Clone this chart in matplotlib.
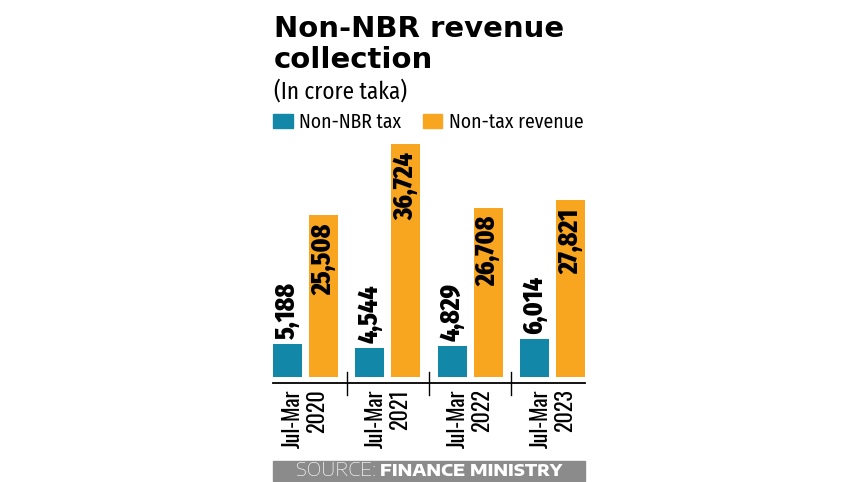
import matplotlib
matplotlib.use('Agg')
import matplotlib.pyplot as plt
import numpy as np
from matplotlib.patches import Rectangle

periods = ['Jul-Mar\n2020', 'Jul-Mar\n2021', 'Jul-Mar\n2022', 'Jul-Mar\n2023']
non_nbr_tax = [5188, 4544, 4829, 6014]
non_tax_revenue = [25508, 36724, 26708, 27821]

teal = '#1387a8'
orange = '#f8a51f'
grey = '#8b8b8b'
W, H = 857, 482

fig = plt.figure(figsize=(W / 100, H / 100), dpi=100)
renderer = fig.canvas.get_renderer()


def fx(px):
    return px / W


def fy(py):
    return 1 - py / H


def fit(s, target, **kw):
    # font size that makes string s about target pixels long
    t = fig.text(0, 0, s, fontsize=20, **kw)
    w = t.get_window_extent(renderer).width
    t.remove()
    return 20 * target / w


title_kw = dict(family='DejaVu Sans', fontweight='bold')
sub_kw = dict(family='Fira Sans Condensed')
val_kw = dict(family='Fira Sans Extra Condensed', fontweight='heavy')
tick_kw = dict(family=['Oswald', 'Fira Sans Extra Condensed'])

# axes: x from 273 to 585 px, y from 395 (bottom) to 140 (top)
ax = fig.add_axes([fx(273), fy(395), fx(585) - fx(273), fy(140) - fy(395)])
upp = 36724 / 233.0  # data units per pixel
ax.set_xlim(-0.393, 3.393)
ax.set_ylim(-18 * upp, 237 * upp)
ax.axis('off')

x = np.arange(len(periods))
off = 0.218
width = 0.35
ax.bar(x - off, non_nbr_tax, width, color=teal, zorder=3)
ax.bar(x + off, non_tax_revenue, width, color=orange, zorder=3)

val_size = fit('36,724', 68, **val_kw)
tick_size = fit('Jul-Mar', 59, **tick_kw)
for i in range(len(periods)):
    ax.text(x[i] - off, non_nbr_tax[i] + 5 * upp, f'{non_nbr_tax[i]:,}', rotation=90,
            ha='center', va='bottom', fontsize=val_size, **val_kw)
    ax.text(x[i] + off, non_tax_revenue[i] - 8 * upp, f'{non_tax_revenue[i]:,}', rotation=90,
            ha='center', va='top', fontsize=val_size, **val_kw)
    ax.text(x[i], -12 * upp, periods[i], rotation=90, ha='center', va='top',
            multialignment='right', fontsize=tick_size, linespacing=1.12,
            clip_on=False, **tick_kw)

# baseline and separators
ax.plot([-0.393, 3.393], [-6 * upp, -6 * upp], color='black', lw=1.3, clip_on=False)
for s in x[:-1] + 0.5:
    ax.plot([s, s], [5 * upp, -18 * upp], color='black', lw=1.0, clip_on=False)

# title block
ts = fit('Non-NBR revenue', 290, **title_kw)
fig.text(fx(274), fy(37), 'Non-NBR revenue', ha='left', va='baseline', fontsize=ts, **title_kw)
fig.text(fx(274), fy(68), 'collection', ha='left', va='baseline', fontsize=ts, **title_kw)
fig.text(fx(274), fy(99), '(In crore taka)', ha='left', va='baseline',
         fontsize=fit('(In crore taka)', 133, **sub_kw), **sub_kw)

# legend
ls = fit('Non-tax revenue', 134, **sub_kw)
fig.patches.append(Rectangle((fx(273), fy(128)), fx(293) - fx(273), fy(114) - fy(128),
                             transform=fig.transFigure, color=teal))
fig.text(fx(299), fy(128), 'Non-NBR tax', ha='left', va='baseline', fontsize=ls, **sub_kw)
fig.patches.append(Rectangle((fx(423), fy(128)), fx(442) - fx(423), fy(114) - fy(128),
                             transform=fig.transFigure, color=orange))
fig.text(fx(449), fy(128), 'Non-tax revenue', ha='left', va='baseline', fontsize=ls, **sub_kw)

# source bar
src_kw = dict(family='Encode Sans Expanded', color='white')
fig.patches.append(Rectangle((fx(273), fy(481)), fx(585) - fx(273), fy(461) - fy(481),
                             transform=fig.transFigure, color=grey))
fig.text(fx(296), fy(476), 'SOURCE:', ha='left', va='baseline', fontweight='light',
         fontsize=fit('SOURCE:', 80, fontweight='light', **src_kw), **src_kw)
fig.text(fx(380), fy(476), 'FINANCE MINISTRY', ha='left', va='baseline', fontweight='heavy',
         fontsize=fit('FINANCE MINISTRY', 183, fontweight='heavy', **src_kw), **src_kw)

fig.savefig('out.png', dpi=100)
